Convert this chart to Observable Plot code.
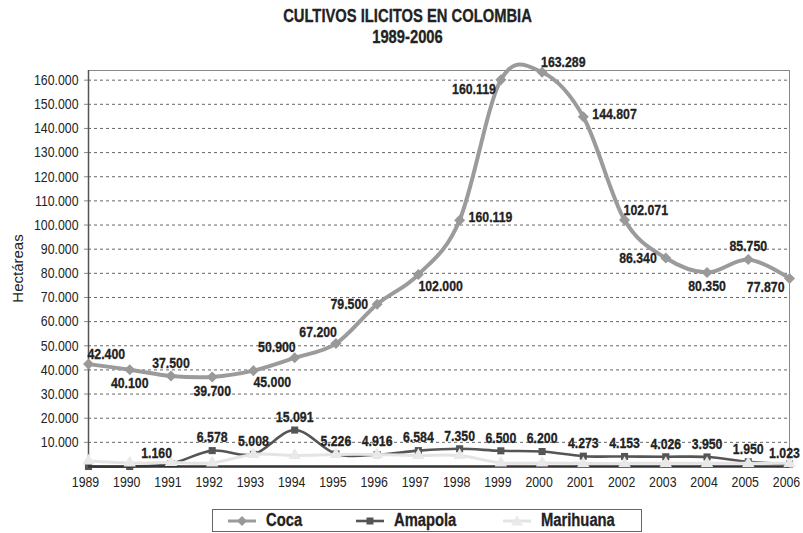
<!DOCTYPE html>
<html><head><meta charset="utf-8">
<script src="https://cdn.jsdelivr.net/npm/d3@7"></script>
<script src="https://cdn.jsdelivr.net/npm/@observablehq/plot@0.6"></script>
<style>
body{margin:0;background:#fff;width:803px;height:533px;position:relative;overflow:hidden;font-family:"Liberation Sans",Arial,sans-serif;}
#title{position:absolute;left:6px;top:6px;width:803px;text-align:center;font-weight:bold;font-size:18px;line-height:21px;color:#222;transform:scaleX(0.82);transform-origin:center;-webkit-text-stroke:0.3px #222;}
#chart{position:absolute;left:0;top:55px;}
#legend{position:absolute;left:212px;top:509px;width:428px;height:21px;border:1px solid #666;background:#fff;}
.item{position:absolute;top:0;height:21px;display:flex;align-items:center;font-weight:bold;font-size:18px;color:#222;white-space:nowrap;}
.item svg{margin-right:10px;}
.item span{display:inline-block;transform:scaleX(0.82);transform-origin:left center;-webkit-text-stroke:0.3px #222;}
</style></head><body>
<div id="title">CULTIVOS ILICITOS EN COLOMBIA<br>1989-2006</div>
<div id="chart"></div>
<div id="legend"></div>
<script>
// ---- data ----
const years = [1989,1990,1991,1992,1993,1994,1995,1996,1997,1998,1999,2000,2001,2002,2003,2004,2005,2006];
const coca = [42400,40100,37500,37100,39700,45000,50900,67200,79500,102000,160119,163289,144807,102071,86340,80350,85750,77870];
const amapola = [0,0,1160,6578,5008,15091,5226,4916,6584,7350,6500,6200,4273,4153,4026,3950,1950,1023];
const marihuana = [2300,1500,1700,1500,5000,4600,5000,5000,4600,4600,1500,1500,1300,1300,1300,1300,1300,1300];
const cocaLabels = ["42.400","40.100","37.500","39.700","45.000","50.900","67.200","79.500","102.000","160.119","160.119","163.289","144.807","102.071","86.340","80.350","85.750","77.870"];
const amapolaLabels = ["","","1.160","6.578","5.008","15.091","5.226","4.916","6.584","7.350","6.500","6.200","4.273","4.153","4.026","3.950","1.950","1.023"];
const yTicks = [10000,20000,30000,40000,50000,60000,70000,80000,90000,100000,110000,120000,130000,140000,150000,160000];
const seriesNames = ["Coca","Amapola","Marihuana"];

// ---- label placement (compass codes) ----
const cocaPlacement = ["ne","s","n","s","se","nw","nw","w","se","e","sw","ne","e","ne","w","s","n","sw"];
const amapolaPlacement = ["n","n","nw","n","n","n","n","n","n","n","n","n","n","n","n","n","n","nl"];
const placements = {
  n:{textAnchor:"middle",dx:0,dy:-13}, s:{textAnchor:"middle",dx:0,dy:14},
  e:{textAnchor:"start",dx:9,dy:-3}, w:{textAnchor:"end",dx:-9,dy:0},
  ne:{textAnchor:"start",dx:-1,dy:-10}, nw:{textAnchor:"end",dx:1,dy:-11},
  se:{textAnchor:"start",dx:0,dy:12}, sw:{textAnchor:"end",dx:-5,dy:9},
  nl:{textAnchor:"middle",dx:-5,dy:-11}
};

const FONT = '"Liberation Sans",Arial,sans-serif';
const fmt = d3.formatLocale({decimal:",",thousands:".",grouping:[3],currency:["",""]}).format(",d");
const curve = d3.curveCardinal.tension(0);
const diamondSym = {draw(ctx, size){const r=Math.sqrt(size/2);ctx.moveTo(0,-r);ctx.lineTo(r,0);ctx.lineTo(0,r);ctx.lineTo(-r,0);ctx.closePath();}};

const rows = years.map((year,i)=>({year, coca:coca[i], amapola:amapola[i], marihuana:marihuana[i],
  cocaLabel:cocaLabels[i], amapolaLabel:amapolaLabels[i], cocaPos:cocaPlacement[i], amapolaPos:amapolaPlacement[i]}));

const styles = {
  Coca:{stroke:"#9b9b9b", width:4, fill:"#999", symbol:diamondSym, r:4.4},
  Amapola:{stroke:"#555", width:2.6, fill:"#555", symbol:"square", r:4},
  Marihuana:{stroke:"#e4e4e4", width:3, fill:"#e9e9e9", symbol:"triangle", r:4.6}
};

const labelStyle = {fontWeight:"bold", fontSize:15, fill:"#222", stroke:"#222", strokeWidth:0.3};
const labelMarks = [];
for (const code of Object.keys(placements)) {
  const p = placements[code];
  labelMarks.push(Plot.text(rows.filter(d=>d.cocaPos===code && d.cocaLabel), {x:"year", y:"coca", text:"cocaLabel", ...p, ...labelStyle}));
  labelMarks.push(Plot.text(rows.filter(d=>d.amapolaPos===code && d.amapolaLabel), {x:"year", y:"amapola", text:"amapolaLabel", ...p, ...labelStyle}));
}

const chart = Plot.plot({
  width: 803, height: 445,
  marginTop: 15, marginBottom: 34, marginLeft: 88, marginRight: 14,
  style: {fontFamily: FONT, fontSize: "15px", color: "#222", background: "transparent", overflow: "visible"},
  x: {type: "linear", domain: [1989, 2006]},
  y: {domain: [0, 164000]},
  marks: [
    Plot.gridY(yTicks, {stroke:"#666", strokeOpacity:1, strokeDasharray:"3,3"}),
    Plot.frame({stroke:"#888"}),
    Plot.axisY(yTicks, {tickFormat: fmt, tickSize: 4, tickPadding: 6, stroke:"#888", label: "Hectáreas", labelAnchor: "center", labelOffset: 76, labelArrow: "none", fontSize: 15}),
    Plot.axisX(years, {tickFormat: d => String(d), tickSize: 0, tickPadding: 10, dx: -3, label: null, fontSize: 15}),
    Plot.ruleX([1989], {stroke:"#555", strokeWidth:1.5}),
    Plot.line(rows, {x:"year", y:"coca", stroke:styles.Coca.stroke, strokeWidth:styles.Coca.width, curve}),
    Plot.dot(rows, {x:"year", y:"coca", symbol:styles.Coca.symbol, r:styles.Coca.r, fill:styles.Coca.fill}),
    Plot.line(rows, {x:"year", y:"amapola", stroke:styles.Amapola.stroke, strokeWidth:styles.Amapola.width, curve}),
    Plot.dot(rows, {x:"year", y:"amapola", symbol:styles.Amapola.symbol, r:styles.Amapola.r, fill:styles.Amapola.fill}),
    Plot.ruleY([0], {stroke:"#333", strokeWidth:2.5}),
    Plot.line(rows, {x:"year", y:"marihuana", stroke:styles.Marihuana.stroke, strokeWidth:styles.Marihuana.width, curve}),
    Plot.dot(rows, {x:"year", y:"marihuana", symbol:styles.Marihuana.symbol, r:styles.Marihuana.r, fill:styles.Marihuana.fill}),
    ...labelMarks
  ]
});
document.getElementById("chart").append(chart);

// condensed look (the original uses a condensed face): compress glyphs of SVG texts
chart.querySelectorAll("text").forEach(t => {
  if (t.closest('[aria-label="y-axis label"]')) return;
  const len = t.getComputedTextLength();
  if (len > 0) { t.setAttribute("textLength", (len * 0.82).toFixed(2)); t.setAttribute("lengthAdjust", "spacingAndGlyphs"); }
});

// ---- legend ----
const legend = document.getElementById("legend");
const lefts = [15, 143, 290];
const symPaths = {
  Coca: "M14,2 L19,7 L14,12 L9,7 Z",
  Amapola: "M10.5,3.5 h7 v7 h-7 Z",
  Marihuana: "M14,1.5 L20,11.5 L8,11.5 Z"
};
seriesNames.forEach((name, i) => {
  const s = styles[name];
  const item = document.createElement("div");
  item.className = "item";
  item.style.left = lefts[i] + "px";
  item.innerHTML = `<svg width="28" height="14"><line x1="0" x2="28" y1="7" y2="7" stroke="${s.stroke}" stroke-width="${Math.min(s.width,3)}"/><path d="${symPaths[name]}" fill="${s.fill}"/></svg><span>${name}</span>`;
  legend.append(item);
});
</script>
</body></html>
